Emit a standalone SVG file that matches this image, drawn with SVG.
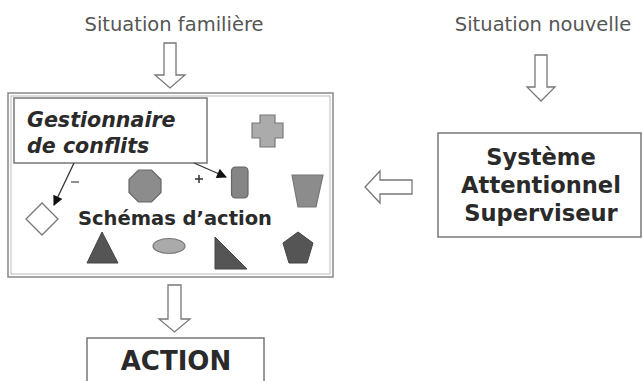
<svg xmlns="http://www.w3.org/2000/svg" width="642" height="381" viewBox="0 0 642 381">
<style>
.t{font-family:"DejaVu Sans",Verdana,sans-serif;fill:#555;font-size:19.5px}
.b{font-family:"DejaVu Sans",Verdana,sans-serif;font-weight:bold;fill:#2a2a2a}
.box{fill:#fff;stroke:#777;stroke-width:1.5}
.ha{fill:#fff;stroke:#777;stroke-width:1.3;stroke-linejoin:miter}
.ln{stroke:#333;stroke-width:1.3;fill:none}
</style>
<defs>
<marker id="ah" viewBox="0 0 10 10" refX="9" refY="5" markerWidth="11" markerHeight="10" orient="auto" markerUnits="userSpaceOnUse">
<path d="M0,0 L10,5 L0,10 z" fill="#111"/>
</marker>
</defs>
<rect width="642" height="381" fill="#fff"/>

<g id="labels">
<text class="t" x="174" y="31" text-anchor="middle">Situation familière</text>
<text class="t" x="543" y="31" text-anchor="middle">Situation nouvelle</text>
</g>

<g id="schemas">
<rect x="8" y="93" width="325" height="184" fill="#fff" stroke="#888" stroke-width="1.5"/>
<rect x="11" y="96" width="319" height="178" fill="none" stroke="#bbb" stroke-width="1"/>
<text class="b" x="175" y="225" text-anchor="middle" font-size="19.5">Schémas d’action</text>
<path d="M260,115 h15 v8 h8 v15 h-8 v9 h-15 v-9 h-8 v-15 h8 z" fill="#ababab" stroke="#777" stroke-width="1.2"/>
<polygon points="138.5,170 151.5,170 161,179.5 161,192.5 151.5,202 138.5,202 129,192.5 129,179.5" fill="#8c8c8c" stroke="#666" stroke-width="1.2"/>
<rect x="231.5" y="167" width="16.5" height="31" rx="4" fill="#858585" stroke="#666" stroke-width="1.2"/>
<polygon points="292,175 323,175 316,207 298,207" fill="#8c8c8c" stroke="#777" stroke-width="1.2"/>
<polygon points="42,203 58,219 42,235 26,219" fill="#fff" stroke="#777" stroke-width="1.3"/>
<polygon points="102,232 118,263 87,263" fill="#555" stroke="#444" stroke-width="1"/>
<ellipse cx="169" cy="246" rx="16" ry="7.5" fill="#aaa" stroke="#777" stroke-width="1.2"/>
<polygon points="215,237 247,269 215,269" fill="#555" stroke="#444" stroke-width="1"/>
<polygon points="298,232 313,243 307,263 289,263 283,243" fill="#555" stroke="#444" stroke-width="1"/>
</g>

<g id="gestionnaire">
<rect x="14" y="98" width="193" height="65" class="box"/>
<text class="b" x="27" y="127" font-size="20.6" font-style="italic">Gestionnaire</text>
<text class="b" x="27" y="153" font-size="20.6" font-style="italic">de conflits</text>
</g>

<g id="sas">
<rect x="438" y="133" width="203" height="104" class="box"/>
<text class="b" x="541" y="165" text-anchor="middle" font-size="22.6">Système</text>
<text class="b" x="541" y="193" text-anchor="middle" font-size="22.6">Attentionnel</text>
<text class="b" x="541" y="221" text-anchor="middle" font-size="22.6">Superviseur</text>
</g>

<g id="action">
<rect x="87" y="338" width="177" height="50" class="box"/>
<text class="b" x="176" y="370" text-anchor="middle" font-size="26">ACTION</text>
</g>

<g id="connectors">
<path class="ha" d="M164,43 h12 v32 h9 l-15,13 l-15,-13 h9 z"/>
<path class="ha" d="M535,55 h12 v32 h8 l-14,14 l-14,-14 h8 z"/>
<path class="ha" d="M412,180 v14 h-32 v9 l-15,-16 l15,-16 v9 z"/>
<path class="ha" d="M168,285 h13 v34 h9 l-15.5,13 l-15.5,-13 h9 z"/>
<line class="ln" x1="74" y1="163" x2="54" y2="205" marker-end="url(#ah)"/>
<line x1="71" y1="182" x2="79" y2="182" stroke="#555" stroke-width="1.3"/>
<line class="ln" x1="194" y1="163" x2="226" y2="177" marker-end="url(#ah)"/>
<path d="M195,179 h8 M199,175 v8" stroke="#333" stroke-width="1.5"/>
</g>
</svg>
